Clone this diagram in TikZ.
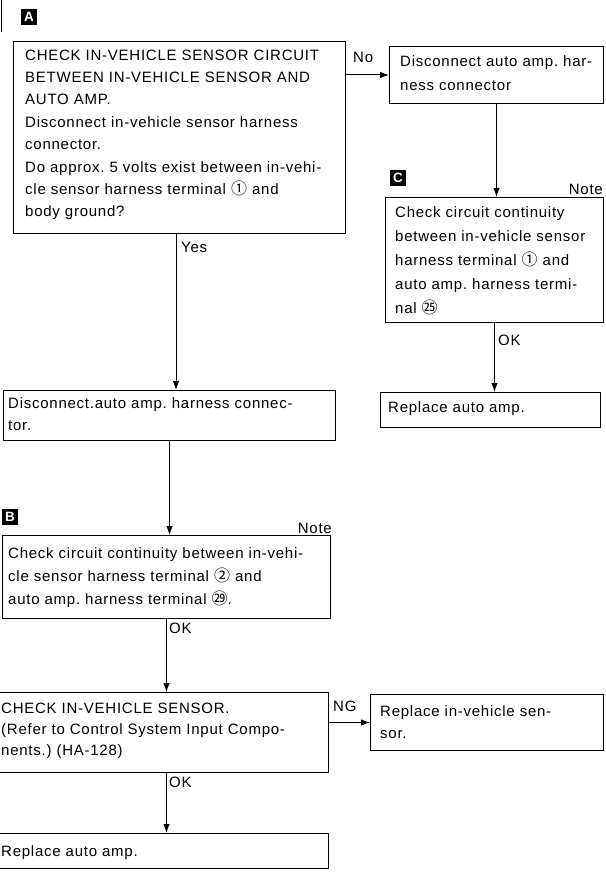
\documentclass[tikz,border=0pt]{standalone}
\usepackage{fontspec}
\setmainfont{Liberation Sans}[LetterSpace=5]
\newfontfamily\cjk{Noto Sans CJK SC}
\usetikzlibrary{arrows.meta,calc}
\newcommand\cnum[1]{{\cjk\fontsize{16}{16}\selectfont #1}}
\begin{document}
\begin{tikzpicture}[x=1pt,y=-1pt,
  box/.style={draw,line width=1pt,inner sep=0pt,anchor=north west},
  txt/.style={anchor=north west,inner sep=0pt,align=left,text width=340pt},
  fs/.style={font=\fontsize{15}{#1}\selectfont\frenchspacing},
  lab/.style={anchor=west,inner sep=0pt,font=\fontsize{15}{16}\selectfont},
  lbl/.style={fill=black,text=white,inner sep=0pt,minimum size=16pt,font=\fontsize{13.5}{13.5}\selectfont\bfseries},
  ln/.style={line width=1pt},
  arr/.style={line width=1pt,-{Latex[length=9pt,width=6.5pt]}}]
\useasboundingbox (0,0) rectangle (605,877);
\fill[white] (0,0) rectangle (605,877);
\draw[line width=1.2pt] (1.5,0) -- (1.5,32);
% labels
\node[lbl] (la) at (29,17) {A};
\node[lbl] (lc) at (398,178) {C};
\node[lbl] (lb) at (10,517) {B};
% boxes
\node[box,minimum width=332pt,minimum height=192pt] (a) at (13,41) {};
\node[box,minimum width=214pt,minimum height=57pt] (r1) at (389,46) {};
\node[box,minimum width=218pt,minimum height=125pt] (c) at (385,197) {};
\node[box,minimum width=220pt,minimum height=35pt] (rep1) at (380,392) {};
\node[box,minimum width=332pt,minimum height=50pt] (d) at (3,390) {};
\node[box,minimum width=328pt,minimum height=83pt] (b) at (2,535) {};
\node[box,minimum width=331pt,minimum height=80pt] (k) at (-3,692) {};
\node[box,minimum width=233pt,minimum height=56pt] (r2) at (370,694) {};
\node[box,minimum width=331pt,minimum height=35pt] (rep2) at (-3,833) {};
% texts
\node[txt,fs=22.4] (ta) at (25,48) {\rule{0pt}{12pt}CHECK IN-VEHICLE SENSOR CIRCUIT\\
BETWEEN IN-VEHICLE SENSOR AND\\
AUTO AMP.\\
Disconnect in-vehicle sensor harness\\
connector.\\
Do approx. 5 volts exist between in-vehi-\\
cle sensor harness terminal \cnum{①} and\\
body ground?};
\node[txt,fs=24] (tr1) at (400,54) {\rule{0pt}{12pt}Disconnect auto amp. har-\\ness connector};
\node[txt,fs=24] (tc) at (395,205) {\rule{0pt}{12pt}Check circuit continuity\\
between in-vehicle sensor\\
harness terminal \cnum{①} and\\
auto amp. harness termi-\\
nal \cnum{㉕}};
\node[txt,fs=22] (trep1) at (388,400) {\rule{0pt}{12pt}Replace auto amp.};
\node[txt,fs=22] (td) at (8,396) {\rule{0pt}{12pt}Disconnect.auto amp. harness connec-\\tor.};
\node[txt,fs=23] (tb) at (8,546) {\rule{0pt}{12pt}Check circuit continuity between in-vehi-\\
cle sensor harness terminal \cnum{②} and\\
auto amp. harness terminal \cnum{㉙}.};
\node[txt,fs=21] (tk) at (1,701) {\rule{0pt}{12pt}CHECK IN-VEHICLE SENSOR.\\
(Refer to Control System Input Compo-\\
nents.) (HA-128)};
\node[txt,fs=22] (tr2) at (380,704) {\rule{0pt}{12pt}Replace in-vehicle sen-\\sor.};
\node[txt,fs=22] (trep2) at (1,844) {\rule{0pt}{12pt}Replace auto amp.};
% edge labels
\node[lab] (lno) at (353,57) {No};
\node[lab] (lyes) at (181,247) {Yes};
\node[lab] (lok1) at (498,340) {OK};
\node[lab] (lok2) at (169,628) {OK};
\node[lab] (lng) at (333,706) {NG};
\node[lab] (lok3) at (169,782) {OK};
\node[lab,anchor=east] (n1) at (603,189) {Note};
\node[lab,anchor=east] (n2) at (332,528) {Note};
% connectors
\coordinate (yesx) at (176,0);
\draw[arr] (a.east |- r1.west) -- (r1.west);
\draw[arr] (r1.south) -- (r1.south |- c.north);
\draw[arr] (c.south) -- (c.south |- rep1.north);
\draw[arr] (yesx |- a.south) -- (yesx |- d.north);
\draw[arr] (d.south) -- (d.south |- b.north);
\draw[arr] (b.south) -- (b.south |- k.north);
\draw[arr] (b.south |- k.south) -- (b.south |- rep2.north);
\draw[arr] (k.east |- r2.west) -- (r2.west);
\end{tikzpicture}
\end{document}
